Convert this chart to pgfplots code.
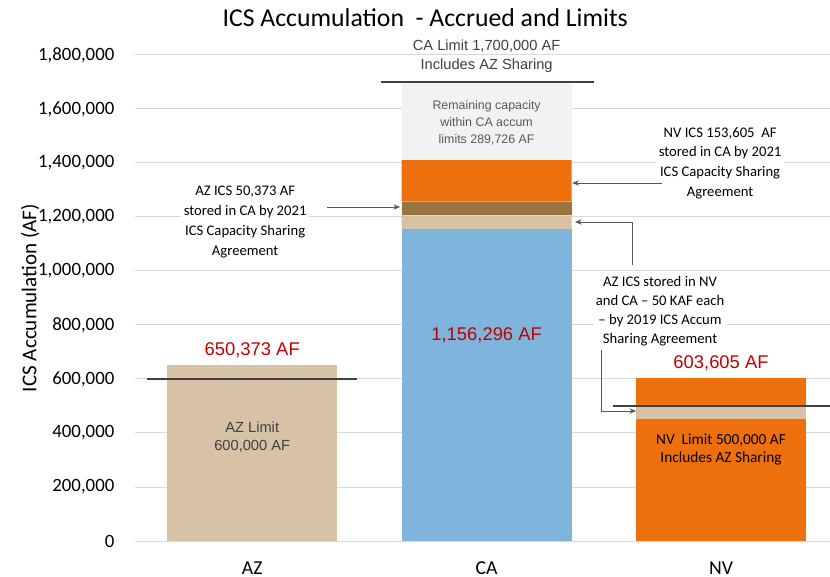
\documentclass[border=0pt]{standalone}
\usepackage{pgfplots}
\pgfplotsset{compat=1.18}
\usepackage{fontspec}
\setmainfont{Carlito}
\newfontfamily\arial{Liberation Sans}
\usetikzlibrary{arrows.meta}
\definecolor{cablue}{HTML}{7FB5DC}
\definecolor{tan}{HTML}{D7C2A5}
\definecolor{brownseg}{HTML}{997441}
\definecolor{orng}{HTML}{ED700D}
\definecolor{remgrey}{HTML}{F2F2F2}
\definecolor{redtxt}{HTML}{C00000}
\definecolor{gridc}{HTML}{D9D9D9}
\definecolor{limc}{HTML}{404040}
\definecolor{arrc}{HTML}{595959}
\pgfplotsset{common/.style={
  scale only axis,
  width=521.25pt, height=364.5pt,
  xmin=-0.5, xmax=2.465,
  ymin=0, ymax=1800000,
  clip=false,
}}
\begin{document}
\begin{tikzpicture}
\begin{axis}[
  common,
  ybar stacked, bar width=0.725,
  xtick={0,1,2}, xticklabels={AZ,CA,NV},
  ytick={0,200000,400000,600000,800000,1000000,1200000,1400000,1600000,1800000},
  scaled y ticks=false,
  /pgf/number format/fixed,
  /pgf/number format/1000 sep={,},
  /pgf/number format/assume math mode=true,
  yticklabel style={xshift=-12pt, font=\fontsize{14.1}{17}\selectfont},
  xticklabel style={inner sep=0pt, anchor=north, text height=9.6pt, text depth=0pt, yshift=-15pt, font=\fontsize{14.8}{17}\selectfont},
  major tick length=0pt,
  axis line style={draw=none},
  ymajorgrids, grid style={gridc, line width=0.75pt},
  ylabel={ICS Accumulation (AF)},
  every axis y label/.style={at={(axis description cs:-0.151,0.5)}, rotate=90, anchor=center, font=\fontsize{15.8}{18}\selectfont},
]
% bottom segments
\addplot[fill=tan, draw=none] coordinates {(0,650373) (1,0) (2,0)};
\addplot[fill=cablue, draw=none] coordinates {(0,0) (1,1156296) (2,0)};
\addplot[fill=orng, draw=none] coordinates {(0,0) (1,0) (2,450000)};
% AZ ICS sharing (50 KAF each)
\addplot[fill=tan, draw=none] coordinates {(0,0) (1,50000) (2,50000)};
% AZ ICS stored in CA 2021
\addplot[fill=brownseg, draw=none] coordinates {(0,0) (1,50373) (2,0)};
% NV ICS / NV remainder
\addplot[fill=orng, draw=none] coordinates {(0,0) (1,153605) (2,103605)};
% remaining CA capacity
\addplot[fill=remgrey, draw=none] coordinates {(0,0) (1,289726) (2,0)};
\end{axis}
\begin{axis}[common, axis lines=none, xtick=\empty, ytick=\empty]
% limit lines
\addplot[limc, line width=1.5pt, sharp plot] coordinates {(-0.448,600000) (0.448,600000)};
\addplot[limc, line width=1.5pt, sharp plot] coordinates {(0.55,1700000) (1.458,1700000)};
\addplot[limc, line width=1.5pt, sharp plot] coordinates {(1.539,500000) (2.5,500000)};

% title
\node[font=\fontsize{19.3}{23}\selectfont] at (axis cs:0.738,1937037) {ICS Accumulation\ \ - Accrued and Limits};

% bar texts
\node[font=\arial\fontsize{11}{14.5}\selectfont, text=limc, align=center] at (axis cs:1,1796296) {CA Limit 1,700,000 AF\\Includes AZ Sharing};
\node[font=\arial\fontsize{9.3}{12.8}\selectfont, text=arrc, align=center] at (axis cs:1,1548148) {Remaining capacity\\within CA accum\\limits 289,726 AF};
\node[font=\arial\fontsize{13.8}{16}\selectfont, text=redtxt] at (axis cs:1,762963) {1,156,296 AF};
\node[font=\arial\fontsize{13.8}{16}\selectfont, text=redtxt] at (axis cs:0,707407) {650,373 AF};
\node[font=\arial\fontsize{13.8}{16}\selectfont, text=redtxt] at (axis cs:2,659259) {603,605 AF};
\node[font=\arial\fontsize{11}{13.5}\selectfont, text=limc, align=center] at (axis cs:0,385185) {AZ Limit\\600,000 AF};
\node[font=\fontsize{11.5}{13.5}\selectfont, text=black, align=center] at (axis cs:2,337037) {NV\ \ Limit 500,000 AF\\Includes AZ Sharing};

% annotations
\node[font=\fontsize{11}{14.8}\selectfont, align=center, fill=white, inner sep=2pt] at (axis cs:-0.03,1181481) {AZ ICS 50,373 AF\\stored in CA by 2021\\ICS Capacity Sharing\\Agreement};
\draw[arrc, line width=0.6pt, -{Stealth[length=5pt,width=4pt]}] (axis cs:0.32,1237037) -- (axis cs:0.631,1237037);

\node[font=\fontsize{11}{14.8}\selectfont, align=center, fill=white, inner sep=2pt] at (axis cs:1.996,1400000) {NV ICS 153,605~ AF\\stored in CA by 2021\\ICS Capacity Sharing\\Agreement};
\draw[arrc, line width=0.6pt, -{Stealth[length=5pt,width=4pt]}] (axis cs:1.748,1325926) -- (axis cs:1.365,1325926);

\node[font=\fontsize{11}{14.2}\selectfont, align=center, fill=white, inner sep=2pt] at (axis cs:1.74,851852) {AZ ICS stored in NV\\and CA -- 50 KAF each\\-- by 2019 ICS Accum\\Sharing Agreement};
\draw[arrc, line width=0.6pt, -{Stealth[length=5pt,width=4pt]}] (axis cs:1.620,1022222) -- (axis cs:1.620,1181481) -- (axis cs:1.377,1181481);
\draw[arrc, line width=0.6pt, -{Stealth[length=5pt,width=4pt]}] (axis cs:1.488,707407) -- (axis cs:1.488,481481) -- (axis cs:1.638,481481);
\end{axis}
\pgfresetboundingbox
\path[use as bounding box] (-101.25pt,-27pt) rectangle (521.25pt,405.75pt);
\end{tikzpicture}
\end{document}
